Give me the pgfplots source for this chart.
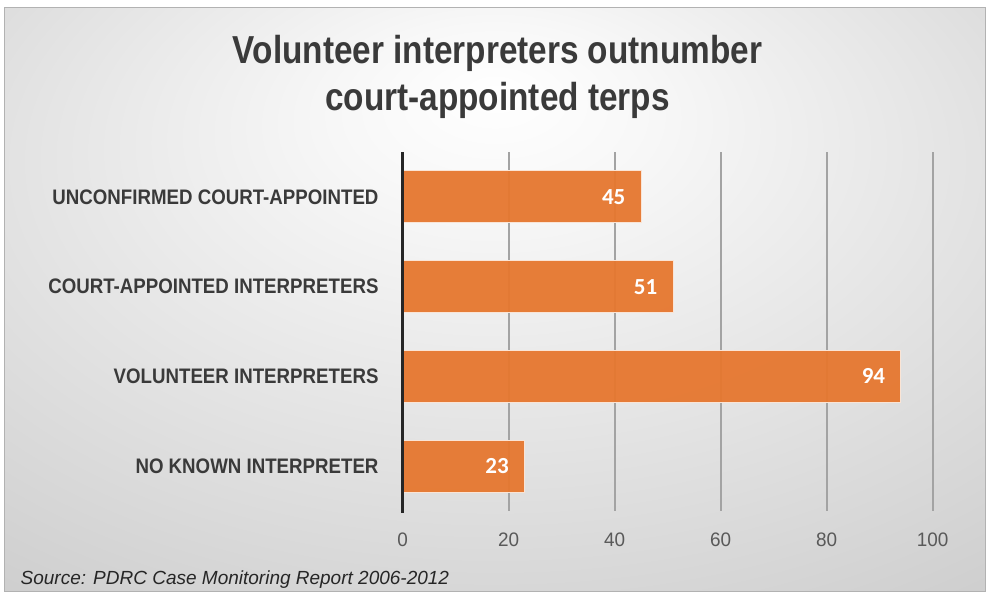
\documentclass[border=0pt]{standalone}
\usepackage{pgfplots}
\pgfplotsset{compat=1.18}
\usepackage{fontspec}
\setmainfont{Liberation Sans}
\newfontfamily\titlefont[FakeStretch=0.855]{Liberation Sans}
\newfontfamily\labfont[FakeStretch=0.89]{Liberation Sans}
\newfontfamily\tickfont[FakeStretch=0.97]{Liberation Sans}
\newfontfamily\srcfont{Liberation Sans}
\newfontfamily\valfont{Carlito}
\definecolor{barorange}{HTML}{E6772F}
\definecolor{labgray}{HTML}{3A3A3A}
\definecolor{tickgray}{HTML}{595959}
\definecolor{gridgray}{HTML}{A3A3A3}
\pgfdeclareradialshading{chartbg}{\pgfpoint{0bp}{18bp}}{color(0bp)=(white); color(8bp)=(white!97!black); color(45bp)=(white!79!black); color(70bp)=(white!70!black)}
\pgfplotstableread{
y val
0 23
1 94
2 51
3 45
}\datatable
\begin{document}
\begin{tikzpicture}[x=1bp,y=1bp]
% page: pixel (px,py) -> (px-402.7, 511-py)
\fill[white] (-402.7,-90) rectangle (591.3,511);
\shade[shading=chartbg] (-397.7,-81) rectangle (582.3,503);
\draw[gray!60, line width=1bp] (-397.7,-81) rectangle (582.3,503);
\node[anchor=base, font=\titlefont\bfseries\fontsize{39bp}{47bp}\selectfont, text=labgray, align=center] at (94.8,447) {Volunteer interpreters outnumber};
\node[anchor=base, font=\titlefont\bfseries\fontsize{39bp}{47bp}\selectfont, text=labgray, align=center] at (94.8,400.3) {court-appointed terps};
\node[anchor=base west, font=\srcfont\itshape\fontsize{19bp}{22bp}\selectfont, text=black!85, inner sep=0pt] at (-382.2,-74) {Source: PDRC Case Monitoring Report 2006-2012};
\begin{axis}[
  at={(0,0)}, anchor=south west,
  scale only axis, width=530bp, height=359bp,
  xbar, bar width=0.58,
  xmin=0, xmax=100, ymin=-0.5, ymax=3.5,
  xtick={0,20,40,60,80,100},
  ytick={0,1,2,3},
  yticklabels={NO KNOWN INTERPRETER, VOLUNTEER INTERPRETERS, COURT-APPOINTED INTERPRETERS, UNCONFIRMED COURT-APPOINTED},
  major tick length=0pt,
  axis line style={draw=none},
  xmajorgrids, major grid style={draw=gridgray, line width=1.8bp},
  ymajorgrids=false,
  xticklabel style={font=\tickfont\fontsize{19.5bp}{23bp}\selectfont, text=tickgray, yshift=-18bp},
  yticklabel style={font=\labfont\bfseries\fontsize{21bp}{25bp}\selectfont, text=labgray, inner sep=0pt, xshift=-24bp},
  /pgf/number format/assume math mode=true,
  nodes near coords,
  every node near coord/.append style={font=\valfont\bfseries\fontsize{23bp}{27bp}\selectfont, text=white, anchor=east, xshift=-12bp},
  clip=false,
]
\addplot[fill=barorange, fill opacity=0.95, text opacity=1, draw=white!80!barorange, line width=1bp] table[x=val, y=y] {\datatable};
\draw[black!85, line width=3bp] ([yshift=-2bp]axis cs:0,-0.5) -- (axis cs:0,3.5);
\end{axis}
\end{tikzpicture}
\end{document}
